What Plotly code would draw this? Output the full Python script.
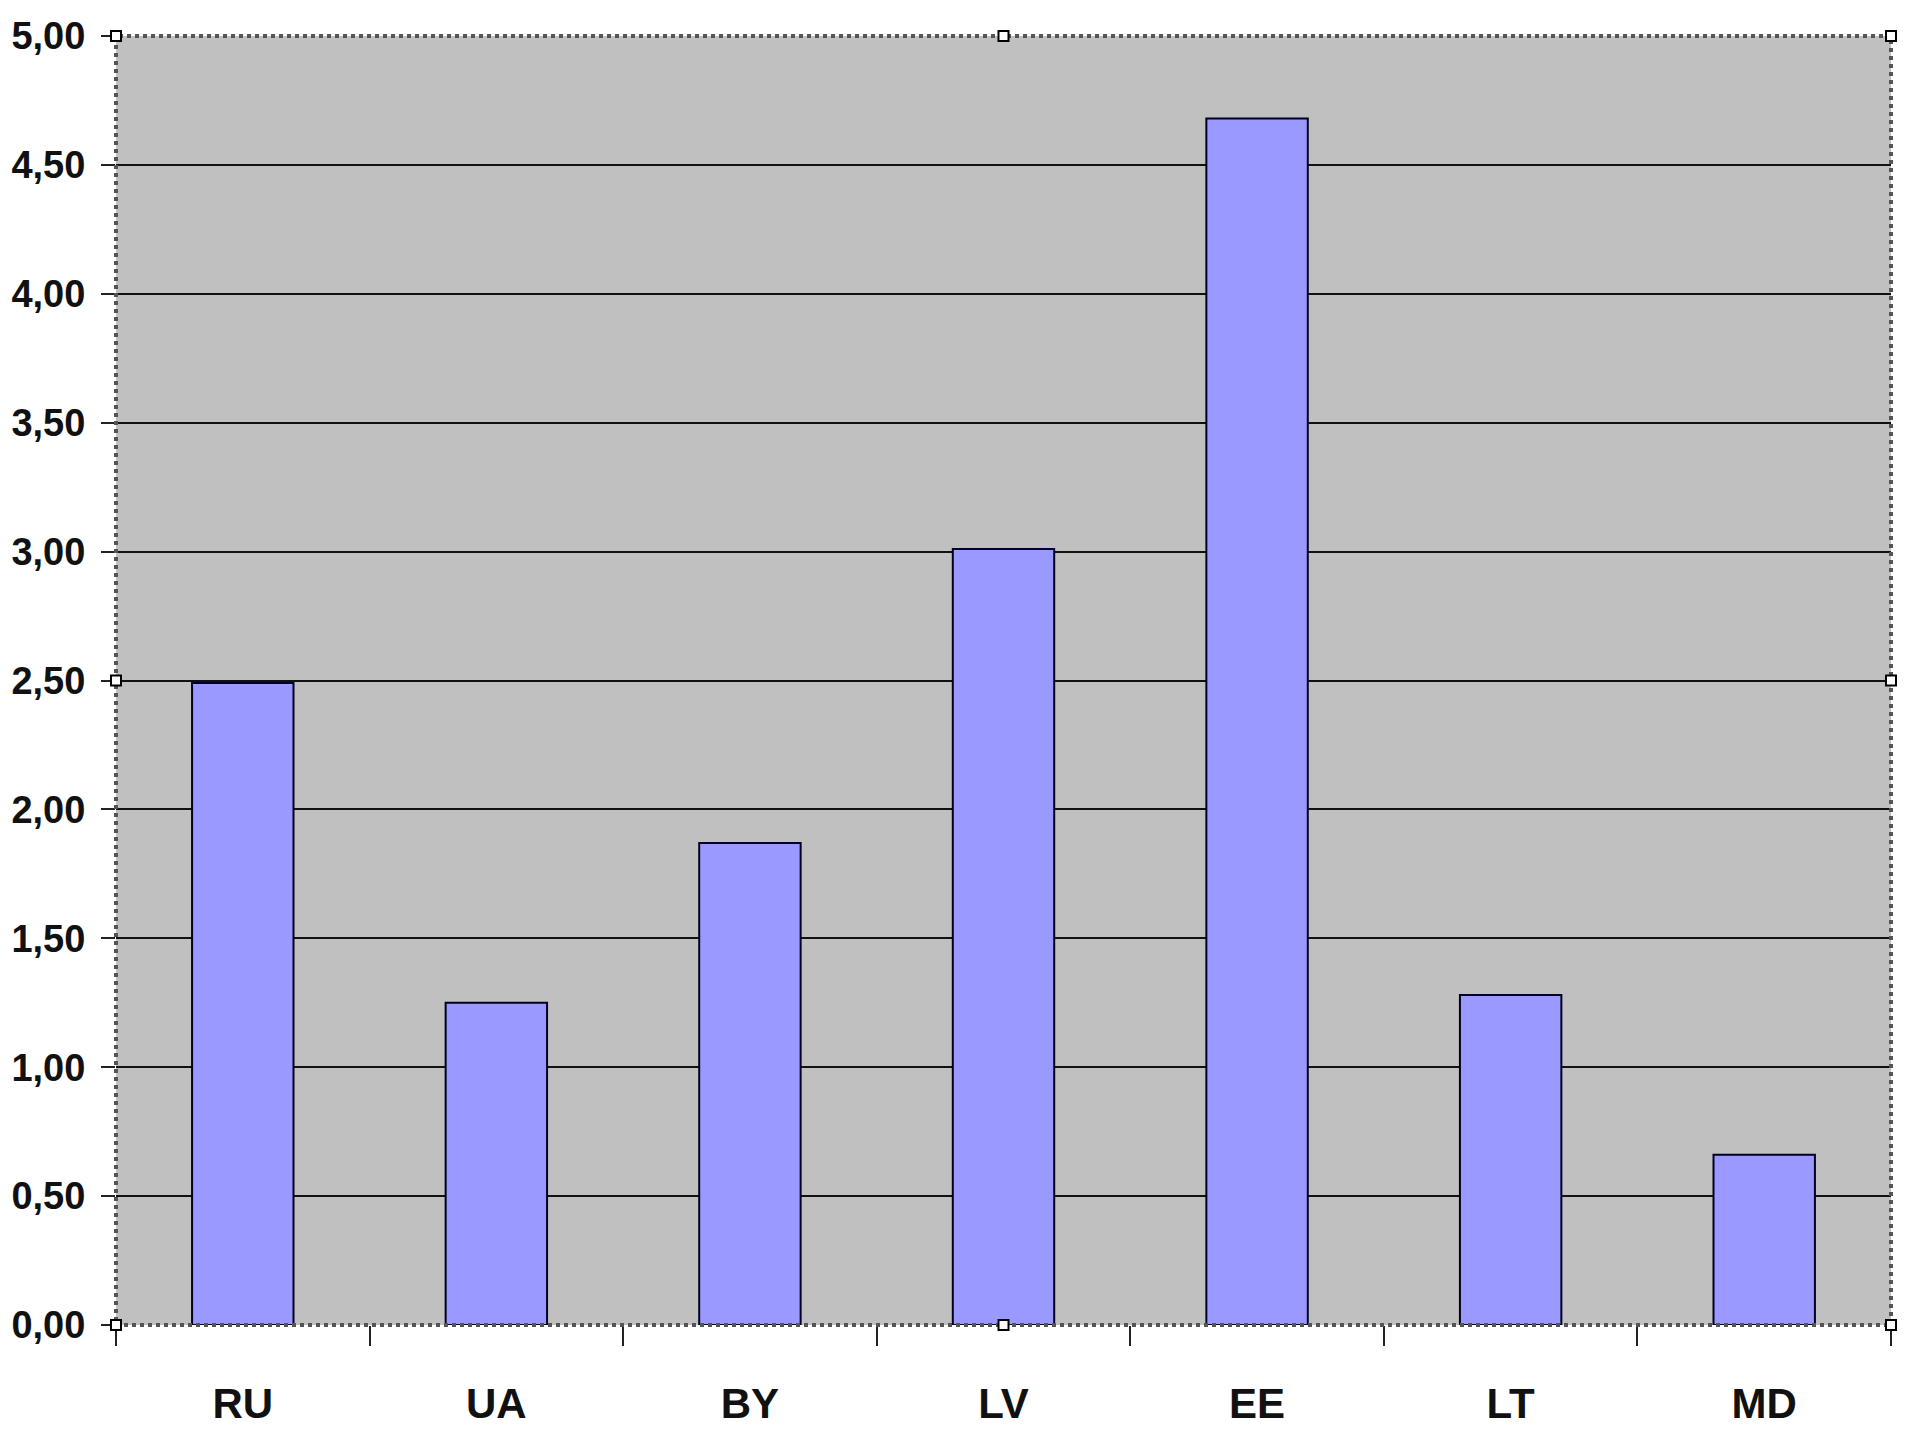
import plotly.graph_objects as go

categories = ["RU", "UA", "BY", "LV", "EE", "LT", "MD"]
values = [2.49, 1.25, 1.87, 3.01, 4.68, 1.28, 0.66]
y_ticks = [0, 0.5, 1.0, 1.5, 2.0, 2.5, 3.0, 3.5, 4.0, 4.5, 5.0]

fig = go.Figure()
fig.add_trace(go.Bar(
    x=categories, y=values, width=0.4,
    marker=dict(color="#9999FF", line=dict(color="#000020", width=2)),
))

font_family = "Arial, Liberation Sans, sans-serif"

fig.update_layout(
    width=1905, height=1440,
    margin=dict(l=108, r=22, t=28, b=123),
    paper_bgcolor="white", plot_bgcolor="#C0C0C0",
    separators=", ",
    showlegend=False,
    bargap=0.6,
    xaxis=dict(
        type="category", tickson="boundaries", automargin=False,
        ticks="outside", ticklen=20, tickwidth=2, tickcolor="#222",
        showgrid=False, showline=False, zeroline=False,
        tickfont=dict(family=font_family, size=42, color="#111", weight="bold"),
        ticklabelstandoff=50,
    ),
    yaxis=dict(
        range=[0, 5], tickvals=y_ticks, tickformat=".2f", automargin=False,
        ticks="outside", ticklen=14, tickwidth=2, tickcolor="#222",
        showgrid=True, gridcolor="#111", gridwidth=2,
        zeroline=False, showline=False,
        tickfont=dict(family=font_family, size=38, color="#111", weight="bold"),
        ticklabelstandoff=8,
    ),
)

# dotted plot-area border (selected chart area look)
fig.add_shape(type="rect", xref="paper", yref="paper", x0=0, y0=0, x1=1, y1=1,
              line=dict(color="#555555", width=4, dash="dot"), fillcolor="rgba(0,0,0,0)", layer="above")

# selection handles
for hx, hy in [(0, 0), (0.5, 0), (1, 0), (0, 0.5), (1, 0.5), (0, 1), (0.5, 1), (1, 1)]:
    fig.add_shape(type="rect", xref="paper", yref="paper",
                  x0=-5, x1=5, y0=-5, y1=5,
                  xsizemode="pixel", ysizemode="pixel", xanchor=hx, yanchor=hy,
                  line=dict(color="#000", width=2), fillcolor="#fff", layer="above")

fig.write_html("out.html")
